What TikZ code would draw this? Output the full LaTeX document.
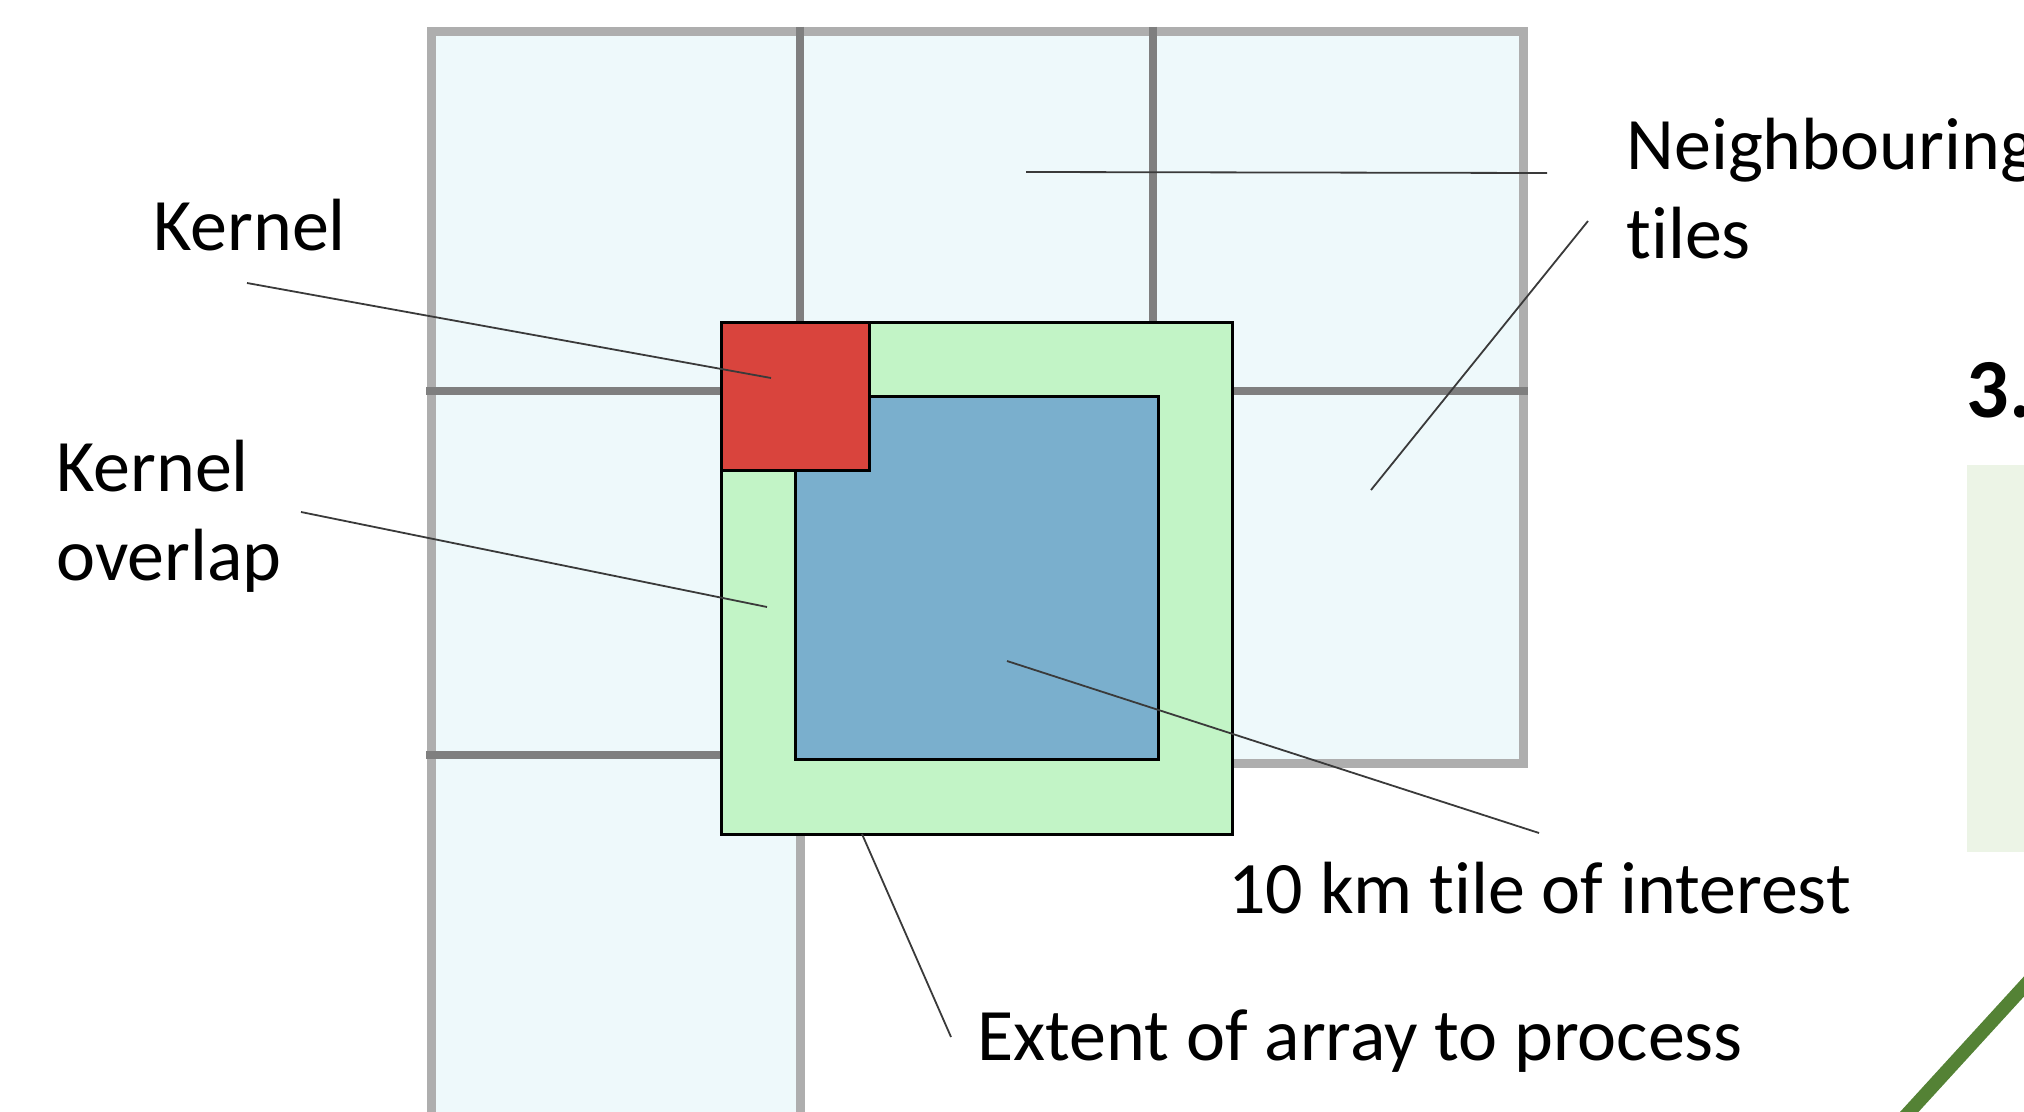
\documentclass[tikz,border=0pt]{standalone}
\usepackage{fontspec}
\setmainfont{Carlito}[Ligatures={NoCommon,NoRare,NoContextual,NoRequired}]
\newcommand{\tsep}{t\kern0pt i}
\definecolor{tilefill}{HTML}{EEF9FB}
\definecolor{tileedge}{HTML}{AEAEAE}
\definecolor{tileline}{HTML}{7F7F7F}
\definecolor{extentfill}{HTML}{C2F4C6}
\definecolor{interestfill}{HTML}{7AAFCD}
\definecolor{kernelfill}{HTML}{D9443D}
\definecolor{leader}{HTML}{3A3A3A}
\definecolor{panelfill}{HTML}{ECF4E6}
\definecolor{arcgreen}{HTML}{548235}

\begin{document}
\begin{tikzpicture}[x=0.5pt,y=-0.5pt,
  lbl/.style={inner sep=0pt, anchor=base west, font=\fontsize{37}{44}\selectfont},
  leaderline/.style={draw=leader, line width=0.9pt},
  sqbox/.style={draw=black, line width=1.5pt}]
\useasboundingbox (0,0) rectangle (2024,1112);
\fill[white] (0,0) rectangle (2024,1112);
\clip (0,0) rectangle (2024,1112);

% mosaic of neighbouring tiles
\fill[tilefill] (431,32) -- (1523,32) -- (1523,763) -- (800,763) -- (800,1130) -- (431,1130) -- cycle;
\draw[tileedge, line width=4.5pt] (431,1130) -- (431,32) -- (1523,32) -- (1523,763) -- (800,763) -- (800,1130);
% inner tile boundaries
\draw[tileline, line width=4.2pt] (800,27) -- (800,763);
\draw[tileline, line width=4.2pt] (1153,27) -- (1153,763);
\draw[tileline, line width=4.2pt] (426,391) -- (1528,391);
\draw[tileline, line width=4.2pt] (426,755) -- (800,755);

% extent, tile of interest and kernel
\draw[sqbox, fill=extentfill] (721,323) rectangle (1232,834);
\draw[sqbox, fill=interestfill] (795,397) rectangle (1158,759);
\draw[sqbox, fill=kernelfill] (721,323) rectangle (869,471);

% part of the neighbouring panel
\fill[panelfill] (1967,465) rectangle (2030,852);
\node[inner sep=0pt, anchor=base west, font=\fontsize{42}{50}\selectfont\bfseries] (step3) at (1966,418) {3.};
\draw[arcgreen, line width=6.8pt] (1890,1133) -- (2050,958);

% labels
\node[lbl] (kernel) at (153,251) {Kernel};
\node[lbl] (overlapA) at (56,492) {Kernel};
\node[lbl] (overlapB) at (56,580) {overlap};
\node[lbl] (neighA) at (1626,170) {Neighbouring};
\node[lbl] (neighB) at (1626,259) {\tsep les};
\node[lbl] (interest) at (1228,913) {10 km \tsep le of interest};
\node[lbl] (extent) at (977,1060) {Extent of array to process};

% leader line end points
\coordinate (kernelS) at (247,283);
\coordinate (kernelT) at (771,378);
\coordinate (overlapS) at (301,512);
\coordinate (overlapT) at (767,607);
\coordinate (neighS1) at (1547,173);
\coordinate (neighT1) at (1026,172);
\coordinate (neighS2) at (1588,221);
\coordinate (neighT2) at (1371,490);
\coordinate (interestS) at (1539,833);
\coordinate (interestT) at (1007,661);
\coordinate (extentS) at (951,1037);
\coordinate (extentT) at (862,834);

\draw[leaderline] (kernelS) -- (kernelT);
\draw[leaderline] (overlapS) -- (overlapT);
\draw[leaderline] (neighS1) -- (neighT1);
\draw[leaderline] (neighS2) -- (neighT2);
\draw[leaderline] (interestS) -- (interestT);
\draw[leaderline] (extentS) -- (extentT);
\end{tikzpicture}
\end{document}
